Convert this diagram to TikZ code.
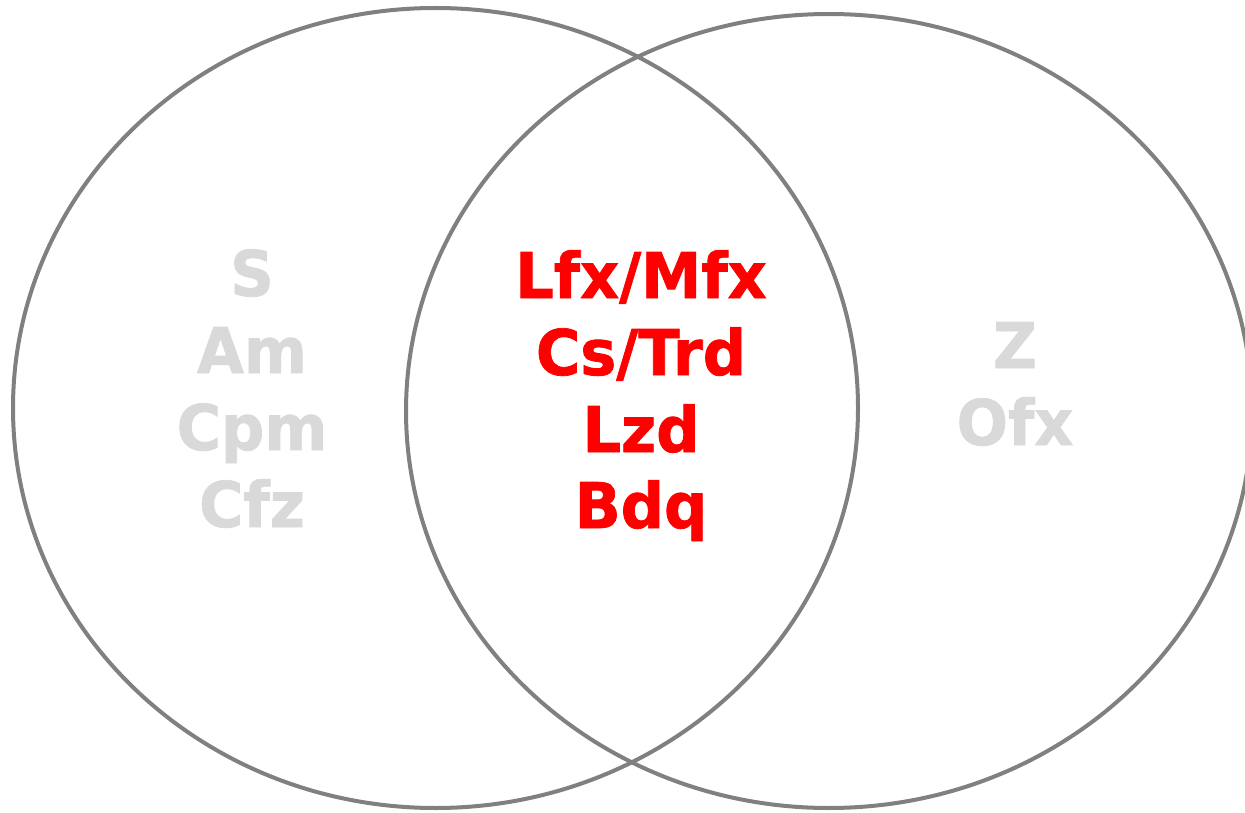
\documentclass[tikz,border=0pt]{standalone}
\usepackage{fontspec}
\newfontfamily\lblfont[FakeStretch=0.96,FakeBold=1.2]{DejaVu Sans Bold}
\definecolor{ringgray}{HTML}{808080}
\definecolor{softgray}{HTML}{D9D9D9}
\definecolor{hotred}{HTML}{FF0000}
\tikzset{
  ring/.style={draw=ringgray, line width=4pt},
  lbl/.style={anchor=base, inner sep=0pt, font=\lblfont\fontsize{63}{63}\selectfont},
  side/.style={lbl, text=softgray},
  core/.style={lbl, text=hotred},
}
\begin{document}
\begin{tikzpicture}[x=1pt,y=-1pt]
  \useasboundingbox (0,0) rectangle (1245,813);
  \clip (0,0) rectangle (1245,813);
  \fill[white] (0,0) rectangle (1245,813);
  % the two overlapping sets
  \draw[ring] (435.5,408) ellipse [x radius=422.5, y radius=400];
  \draw[ring] (829,411) ellipse [x radius=423, y radius=397];
  % left-only members
  \node[side] (s)   at (252,296) {S};
  \node[side] (am)  at (252,373) {Am};
  \node[side] (cpm) at (252,450) {Cpm};
  \node[side] (cfz) at (252,527) {Cfz};
  % shared members
  \node[core] (lfx) at (641,298) {Lfx/Mfx};
  \node[core] (cs)  at (641,375) {Cs/Trd};
  \node[core] (lzd) at (641,452) {Lzd};
  \node[core] (bdq) at (641,528) {Bdq};
  % right-only members
  \node[side] (z)   at (1015,368) {Z};
  \node[side] (ofx) at (1015,445) {Ofx};
\end{tikzpicture}
\end{document}
